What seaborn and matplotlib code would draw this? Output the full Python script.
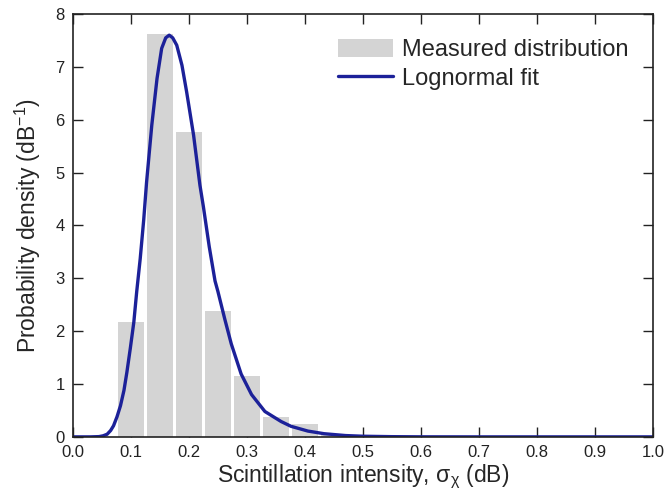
import numpy as np
import pandas as pd
import matplotlib
matplotlib.use('Agg')
import matplotlib.pyplot as plt
import seaborn as sns

# histogram of measured scintillation intensity
bin_centers = [0.10, 0.15, 0.20, 0.25, 0.30, 0.35, 0.40, 0.45]
bin_density = [2.18, 7.63, 5.77, 2.39, 1.15, 0.38, 0.24, 0.04]

# lognormal fit curve
fit_x = [0.0, 0.03, 0.045, 0.052, 0.059, 0.065, 0.070, 0.076, 0.082, 0.088,
         0.093, 0.099, 0.105, 0.110, 0.116, 0.122, 0.127, 0.136, 0.145, 0.153,
         0.160, 0.166, 0.172, 0.179, 0.188, 0.196, 0.208, 0.219, 0.225, 0.235,
         0.245, 0.250, 0.262, 0.273, 0.290, 0.308, 0.331, 0.359, 0.376, 0.405,
         0.433, 0.47, 0.50, 0.55, 0.60, 0.70, 1.0]
fit_y = [0.0, 0.0, 0.005, 0.02, 0.05, 0.12, 0.21, 0.38, 0.59, 0.88,
         1.22, 1.68, 2.17, 2.75, 3.37, 4.10, 4.82, 5.90, 6.78, 7.35,
         7.55, 7.60, 7.55, 7.41, 7.03, 6.53, 5.71, 4.76, 4.35, 3.60,
         2.95, 2.75, 2.22, 1.76, 1.19, 0.80, 0.48, 0.29, 0.20, 0.11,
         0.06, 0.025, 0.012, 0.004, 0.001, 0.0, 0.0]

sns.set_style('ticks')
plt.rcParams['font.family'] = ['Liberation Sans', 'DejaVu Sans']
plt.rcParams['mathtext.fontset'] = 'custom'
plt.rcParams['mathtext.rm'] = 'Liberation Sans'
plt.rcParams['mathtext.it'] = 'Liberation Sans'

fig = plt.figure(figsize=(6.69, 5.01), dpi=100)
ax = fig.add_axes([0.109, 0.128, 0.867, 0.844])

sns.barplot(x=bin_centers, y=bin_density, native_scale=True, width=0.91,
            color='#d4d4d4', saturation=1, edgecolor='none',
            label='Measured distribution', ax=ax)
sns.lineplot(x=fit_x, y=fit_y, sort=False, color='#1c2199', linewidth=2.4,
             label='Lognormal fit', ax=ax)

ax.set_xlim(0, 1.0)
ax.set_ylim(0, 8)
ax.set_xticks(np.arange(0, 1.01, 0.1))
ax.set_xticklabels([f'{t:.1f}' for t in np.arange(0, 1.01, 0.1)])
ax.set_yticks(range(0, 9))
ax.tick_params(direction='in', length=7, width=1, top=True, right=True,
               labelsize=12, colors='#222222', pad=6)
for s in ax.spines.values():
    s.set_linewidth(1.2)
    s.set_color('#222222')

ax.set_xlabel('Scintillation intensity, σ$_{\\chi}$ (dB)', fontsize=16.5, labelpad=2)
ax.set_ylabel('Probability density (dB$^{-1}$)', fontsize=16.5, labelpad=9)

handles, labels = ax.get_legend_handles_labels()
order = [labels.index('Measured distribution'), labels.index('Lognormal fit')]
ax.legend([handles[i] for i in order], [labels[i] for i in order],
          loc='upper right', frameon=False, fontsize=17, handlelength=2.3,
          handleheight=0.85, handletextpad=0.4, borderaxespad=0, borderpad=0,
          labelspacing=0.25, bbox_to_anchor=(0.958, 0.942))

fig.savefig('out.png', dpi=100)
